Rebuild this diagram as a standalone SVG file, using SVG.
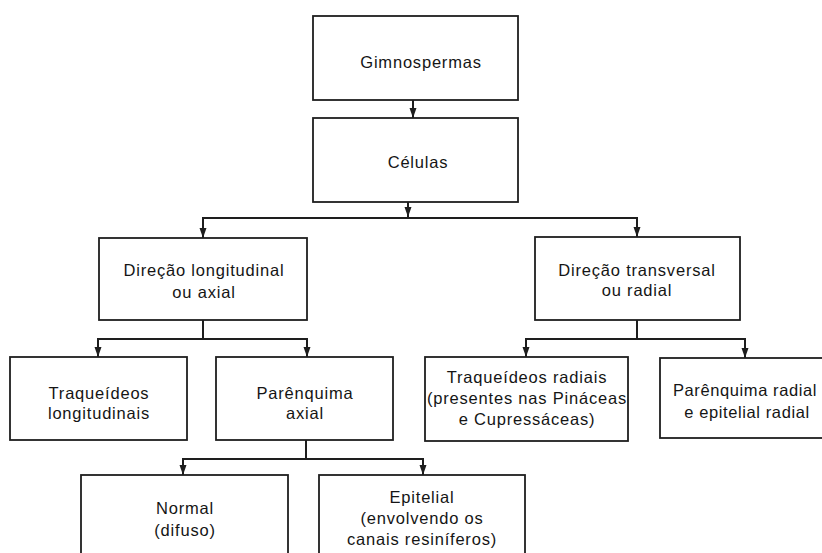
<svg xmlns="http://www.w3.org/2000/svg" width="822" height="553" viewBox="0 0 822 553">
<defs>
<style>
.box{fill:#fff;stroke:#1e1e1e;stroke-width:1.8}
.ln{fill:none;stroke:#1e1e1e;stroke-width:2}
text{font-family:"Liberation Sans",Arial,sans-serif;font-size:16.5px;fill:#151515;text-anchor:middle;letter-spacing:0.8px}
</style>
<marker id="ah" markerUnits="userSpaceOnUse" markerWidth="10" markerHeight="8" viewBox="0 0 10 8" refX="10" refY="4" orient="auto">
<path d="M0,0.5 L10,4 L0,7.5 Z" fill="#1e1e1e"/>
</marker>
</defs>
<rect width="822" height="553" fill="#fff"/>
<g id="connectors">
<line class="ln" x1="413" y1="100" x2="413" y2="118" marker-end="url(#ah)"/>
<line class="ln" x1="408" y1="202" x2="408" y2="217" marker-end="url(#ah)"/>
<line class="ln" x1="202" y1="218" x2="638" y2="218"/>
<line class="ln" x1="203" y1="218" x2="203" y2="238" marker-end="url(#ah)"/>
<line class="ln" x1="637" y1="218" x2="637" y2="237" marker-end="url(#ah)"/>
<line class="ln" x1="203" y1="320" x2="203" y2="339"/>
<line class="ln" x1="97" y1="339" x2="308" y2="339"/>
<line class="ln" x1="98" y1="339" x2="98" y2="357" marker-end="url(#ah)"/>
<line class="ln" x1="307" y1="339" x2="307" y2="357" marker-end="url(#ah)"/>
<line class="ln" x1="637" y1="320" x2="637" y2="339"/>
<line class="ln" x1="525" y1="339" x2="746" y2="339"/>
<line class="ln" x1="526" y1="339" x2="526" y2="357" marker-end="url(#ah)"/>
<line class="ln" x1="745" y1="339" x2="745" y2="358" marker-end="url(#ah)"/>
<line class="ln" x1="306" y1="440" x2="306" y2="459"/>
<line class="ln" x1="182" y1="459" x2="424" y2="459"/>
<line class="ln" x1="183" y1="459" x2="183" y2="475" marker-end="url(#ah)"/>
<line class="ln" x1="423" y1="459" x2="423" y2="475" marker-end="url(#ah)"/>
</g>
<g id="gimnospermas">
<rect class="box" x="313" y="16" width="205" height="84"/>
<text x="421" y="68">Gimnospermas</text>
</g>
<g id="celulas">
<rect class="box" x="313" y="118" width="205" height="84"/>
<text x="418" y="168">Células</text>
</g>
<g id="longitudinal">
<rect class="box" x="99" y="238" width="208" height="82"/>
<text x="204" y="276">Direção longitudinal</text>
<text x="204" y="298">ou axial</text>
</g>
<g id="transversal">
<rect class="box" x="535" y="237" width="205" height="83"/>
<text x="637" y="276">Direção transversal</text>
<text x="637" y="296">ou radial</text>
</g>
<g id="traq-long">
<rect class="box" x="10" y="357" width="177" height="83"/>
<text x="99" y="399">Traqueídeos</text>
<text x="99" y="419">longitudinais</text>
</g>
<g id="par-axial">
<rect class="box" x="216" y="357" width="177" height="83"/>
<text x="305" y="399">Parênquima</text>
<text x="305" y="419">axial</text>
</g>
<g id="traq-rad">
<rect class="box" x="425" y="357" width="203" height="84"/>
<text x="527" y="383">Traqueídeos radiais</text>
<text x="527" y="404">(presentes nas Pináceas</text>
<text x="527" y="425">e Cupressáceas)</text>
</g>
<g id="par-radial">
<rect class="box" x="660" y="358" width="180" height="80"/>
<text x="745" y="396" style="letter-spacing:0.6px">Parênquima radial</text>
<text x="747" y="418" style="letter-spacing:0.6px">e epitelial radial</text>
</g>
<g id="normal">
<rect class="box" x="81" y="475" width="207" height="90"/>
<text x="185" y="514">Normal</text>
<text x="185" y="536">(difuso)</text>
</g>
<g id="epitelial">
<rect class="box" x="319" y="475" width="206" height="90"/>
<text x="422" y="503">Epitelial</text>
<text x="422" y="524">(envolvendo os</text>
<text x="422" y="545">canais resiníferos)</text>
</g>
</svg>
